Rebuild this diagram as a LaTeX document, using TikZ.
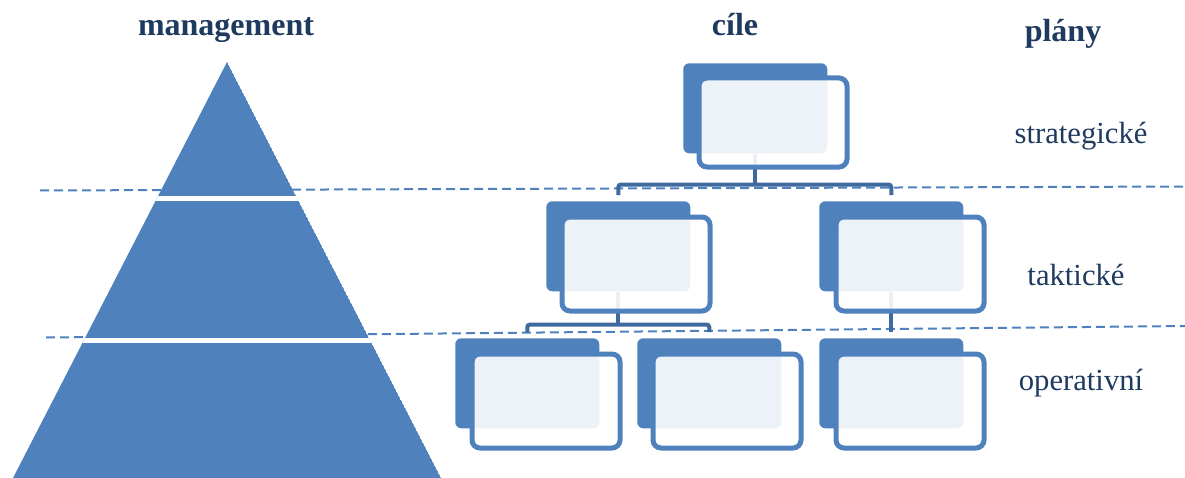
\documentclass[tikz,border=0pt]{standalone}
\usepackage{fontspec}
\setmainfont{Liberation Serif}
\usetikzlibrary{calc}
\definecolor{accent}{HTML}{4F81BD}
\definecolor{linkblue}{HTML}{3E6A9F}
\definecolor{navy}{HTML}{1F3A5F}
\tikzset{
  backbox/.style={fill=accent, draw=none, rounded corners=4.5pt, inner sep=0pt,
    minimum width=108pt, minimum height=67.5pt, anchor=north west},
  frontbox/.style={draw=accent, line width=3.75pt, fill=white, fill opacity=0.9,
    draw opacity=1, rounded corners=6pt, inner sep=0pt,
    minimum width=111pt, minimum height=70.5pt, anchor=north west},
  conn/.style={draw=linkblue, line width=3pt, rounded corners=2pt},
  levelline/.style={draw=accent, line width=1.5pt, dash pattern=on 6.75pt off 3.75pt},
  head/.style={text=navy, font=\fontsize{24}{28}\selectfont\bfseries, anchor=base},
  level/.style={text=navy, font=\fontsize{23}{27}\selectfont, anchor=base},
}
\begin{document}
\begin{tikzpicture}[x=0.75pt, y=-0.75pt]
\useasboundingbox (0,0) rectangle (1185,478);

% level separators
\draw[levelline] (40,190.5) -- (1185,186.5);
\draw[levelline] (46,337.5) -- (1185,326);

% management pyramid in three layers
\begin{scope}
  \clip (227,62) -- (441,478) -- (13,478) -- cycle;
  \fill[accent] (227,62) -- (441,478) -- (13,478) -- cycle;
  \fill[white] (0,195.5) rectangle (500,201);
  \fill[white] (0,337.5) rectangle (500,342.5);
\end{scope}

% headings
\node[head] (hm) at (226,36) {management};
\node[head] (hc) at (735,36) {cíle};
\node[head] (hp) at (1063,42) {plány};

% plan levels
\node[level] (ls) at (1081,143) {strategické};
\node[level] (lt) at (1076,285) {taktické};
\node[level] (lo) at (1081,390) {operativní};

% back plates of the goal boxes
\node[backbox] (t)  at (683,63) {};
\node[backbox] (ml) at (546,201) {};
\node[backbox] (mr) at (819,201) {};
\node[backbox] (bl) at (455,338) {};
\node[backbox] (bm) at (637,338) {};
\node[backbox] (br) at (819,338) {};

% hierarchy connectors
\draw[conn] (t.south) -- ++(0,31) coordinate (tbus);
\draw[conn] ($(ml.north)+(0,-6)$) |- (tbus) -| ($(mr.north)+(0,-6)$);
\draw[conn] (ml.south) -- ++(0,33) coordinate (mbus);
\draw[conn] ($(bl.north)+(0,-6)$) |- (mbus) -| ($(bm.north)+(0,-6)$);
\draw[conn] (mr.south) -- ($(br.north)+(0,-6)$);

% front frames of the goal boxes
\node[frontbox, minimum height=66.75pt] (tf) at (696.5,75.5) {};
\node[frontbox] (mlf) at (559.5,214.5) {};
\node[frontbox] (mrf) at (833.5,214.5) {};
\node[frontbox] (blf) at (469.5,351.5) {};
\node[frontbox] (bmf) at (650.5,351.5) {};
\node[frontbox] (brf) at (833.5,351.5) {};
\end{tikzpicture}
\end{document}
